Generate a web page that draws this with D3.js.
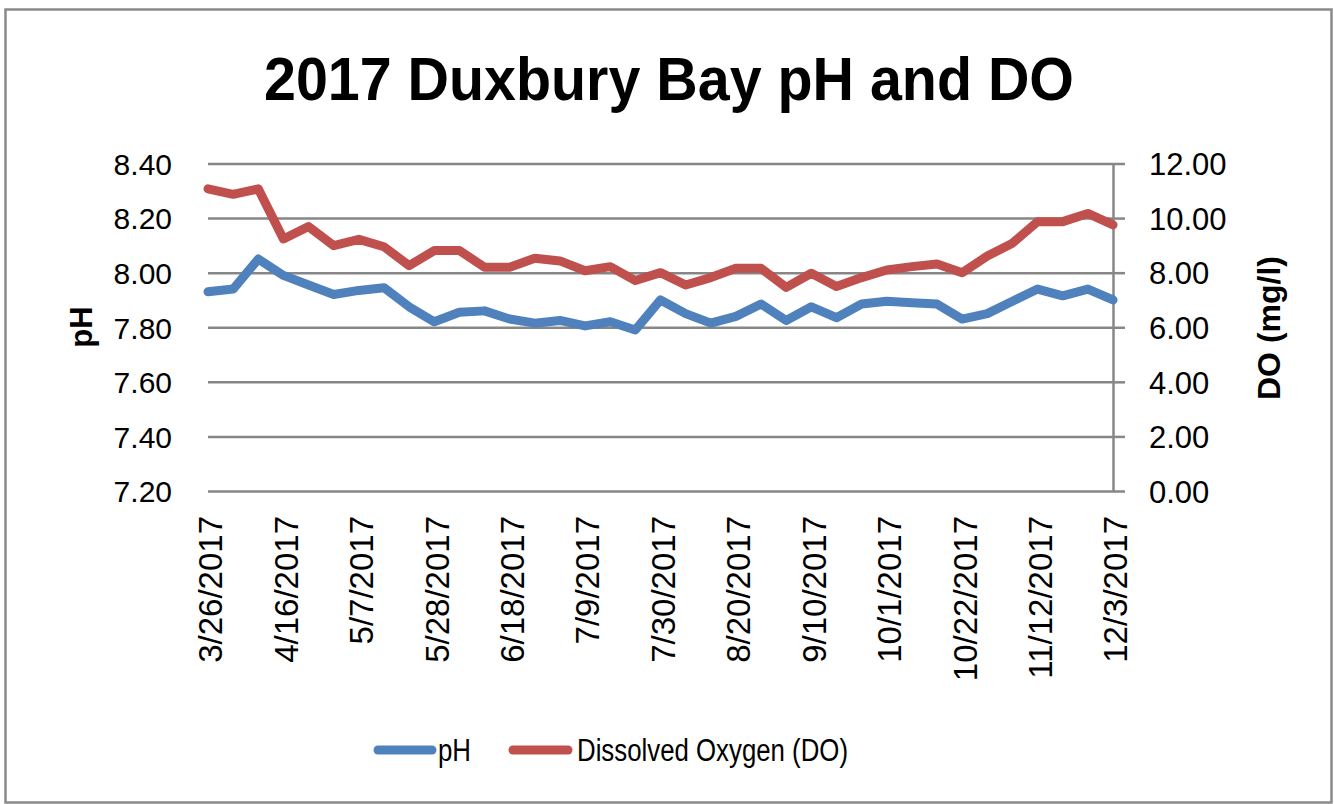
<!DOCTYPE html>
<html>
<head>
<meta charset="utf-8">
<script src="https://cdn.jsdelivr.net/npm/d3@7"></script>
<style>
  html, body { margin: 0; padding: 0; background: #fff; }
  svg { display: block; }
</style>
</head>
<body>
<svg id="chart" width="1334" height="804"></svg>
<script>
// ---- Data ----
const dates = [
  "3/26/2017","4/2/2017","4/9/2017","4/16/2017","4/23/2017","4/30/2017","5/7/2017",
  "5/14/2017","5/21/2017","5/28/2017","6/4/2017","6/11/2017","6/18/2017","6/25/2017",
  "7/2/2017","7/9/2017","7/16/2017","7/23/2017","7/30/2017","8/6/2017","8/13/2017",
  "8/20/2017","8/27/2017","9/3/2017","9/10/2017","9/17/2017","9/24/2017","10/1/2017",
  "10/8/2017","10/15/2017","10/22/2017","10/29/2017","11/5/2017","11/12/2017","11/19/2017",
  "11/26/2017","12/3/2017"
];
const phValues = [
  7.93, 7.94, 8.05, 7.99, 7.955, 7.92, 7.935, 7.945, 7.875, 7.82, 7.855, 7.86, 7.83,
  7.815, 7.825, 7.805, 7.82, 7.79, 7.90, 7.85, 7.815, 7.84, 7.885, 7.825, 7.875, 7.835,
  7.885, 7.895, 7.89, 7.885, 7.83, 7.85, 7.895, 7.94, 7.915, 7.94, 7.90
];
const doValues = [
  11.07, 10.87, 11.07, 9.23, 9.69, 8.99, 9.22, 8.95, 8.26, 8.81, 8.81, 8.20, 8.20,
  8.53, 8.43, 8.07, 8.22, 7.71, 8.00, 7.55, 7.82, 8.16, 8.16, 7.46, 7.98, 7.49,
  7.82, 8.10, 8.22, 8.32, 8.00, 8.61, 9.08, 9.87, 9.87, 10.17, 9.75
];
const phTicks = [7.20, 7.40, 7.60, 7.80, 8.00, 8.20, 8.40];
const doTicks = [0, 2, 4, 6, 8, 10, 12];
const xLabelEvery = 3;
const titleText = "2017 Duxbury Bay pH and DO";
const seriesNames = ["pH", "Dissolved Oxygen (DO)"];
const yLeftTitle = "pH";
const yRightTitle = "DO (mg/l)";

// ---- Layout ----
const plot = { left: 208, right: 1113, top: 163.5, bottom: 491 };
const colors = { ph: "#4F81BD", do: "#C0504D", grid: "#878787", text: "#000" };
const FONT = "'Liberation Sans', Arial, sans-serif";

const svg = d3.select("#chart");

// border
svg.append("rect")
  .attr("x", 5.5).attr("y", 9.5).attr("width", 1326).attr("height", 793)
  .attr("fill", "#fff").attr("stroke", "#8a8a8a").attr("stroke-width", 2.5);

// scales
const x = d3.scalePoint().domain(dates).range([plot.left, plot.right]);
const yL = d3.scaleLinear().domain([7.2, 8.4]).range([plot.bottom, plot.top]);
const yR = d3.scaleLinear().domain([0, 12]).range([plot.bottom, plot.top]);

// gridlines (left axis)
const leftAxis = d3.axisLeft(yL).tickValues(phTicks).tickFormat(d3.format(".2f"))
  .tickSize(-(plot.right - plot.left)).tickPadding(36);
const gL = svg.append("g").attr("transform", `translate(${plot.left},0)`).call(leftAxis);
gL.select(".domain").remove();
gL.selectAll(".tick line").attr("stroke", colors.grid).attr("stroke-width", 2.5);
gL.selectAll(".tick text").attr("font-family", FONT).attr("font-size", 30)
  .attr("fill", colors.text).attr("dy", "0.36em");

// right axis
const rightAxis = d3.axisRight(yR).tickValues(doTicks).tickFormat(d3.format(".2f"))
  .tickSize(12).tickSizeOuter(0).tickPadding(24);
const gR = svg.append("g").attr("transform", `translate(${plot.right},0)`).call(rightAxis);
gR.select(".domain").attr("stroke", colors.grid).attr("stroke-width", 2.5);
gR.selectAll(".tick line").attr("stroke", colors.grid).attr("stroke-width", 2.5);
gR.selectAll(".tick text").attr("font-family", FONT).attr("font-size", 31)
  .attr("fill", colors.text).attr("dy", "0.36em");

// x axis labels
const xAxis = d3.axisBottom(x)
  .tickValues(dates.filter((d, i) => i % xLabelEvery === 0))
  .tickSize(0).tickPadding(0);
const gX = svg.append("g").attr("transform", `translate(0,${plot.bottom})`).call(xAxis);
gX.select(".domain").remove();
gX.selectAll(".tick text")
  .attr("font-family", FONT).attr("font-size", 33).attr("fill", colors.text)
  .attr("text-anchor", "end")
  .attr("transform", "rotate(-90)")
  .attr("x", -25).attr("y", 2).attr("dy", "0.36em");

// lines
const linePh = d3.line().x((d, i) => x(dates[i])).y(d => yL(d));
const lineDo = d3.line().x((d, i) => x(dates[i])).y(d => yR(d));
svg.append("path").datum(doValues).attr("d", lineDo)
  .attr("fill", "none").attr("stroke", colors.do).attr("stroke-width", 9)
  .attr("stroke-linejoin", "round").attr("stroke-linecap", "round");
svg.append("path").datum(phValues).attr("d", linePh)
  .attr("fill", "none").attr("stroke", colors.ph).attr("stroke-width", 9)
  .attr("stroke-linejoin", "round").attr("stroke-linecap", "round");

// title
svg.append("text").attr("x", 669).attr("y", 100)
  .attr("text-anchor", "middle").attr("font-family", FONT).attr("font-weight", "bold")
  .attr("font-size", 62).attr("textLength", 810).attr("lengthAdjust", "spacingAndGlyphs")
  .text(titleText);

// axis titles
svg.append("text").attr("transform", "translate(92,327) rotate(-90)")
  .attr("text-anchor", "middle").attr("font-family", FONT).attr("font-weight", "bold")
  .attr("font-size", 31).text(yLeftTitle);
svg.append("text").attr("transform", "translate(1280,328) rotate(-90)")
  .attr("text-anchor", "middle").attr("font-family", FONT).attr("font-weight", "bold")
  .attr("font-size", 32).text(yRightTitle);

// legend
const legend = [
  { name: seriesNames[0], color: colors.ph, x1: 378, x2: 432, tx: 438, tl: 33 },
  { name: seriesNames[1], color: colors.do, x1: 513, x2: 568, tx: 577, tl: 271 }
];
const lg = svg.append("g");
legend.forEach(l => {
  lg.append("line").attr("x1", l.x1).attr("x2", l.x2).attr("y1", 750).attr("y2", 750)
    .attr("stroke", l.color).attr("stroke-width", 9).attr("stroke-linecap", "round");
  lg.append("text").attr("x", l.tx).attr("y", 761)
    .attr("font-family", FONT).attr("font-size", 31)
    .attr("textLength", l.tl).attr("lengthAdjust", "spacingAndGlyphs")
    .text(l.name);
});
</script>
</body>
</html>
